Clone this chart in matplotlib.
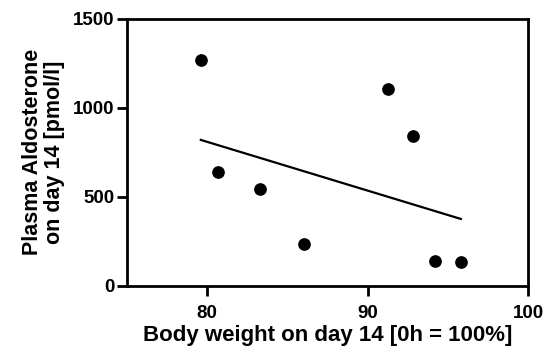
import numpy as np
import matplotlib.pyplot as plt

plt.rcParams['font.family'] = ['Liberation Sans', 'DejaVu Sans']
plt.rcParams['font.weight'] = 'bold'

# body weight (% of 0h) vs plasma aldosterone
weight = [79.6, 80.7, 83.3, 86.0, 91.25, 92.8, 94.2, 95.8]
aldo = [1270, 639, 543, 238, 1107, 841, 137, 133]

# regression line ends
fit_x = [79.6, 95.8]
fit_y = [820, 376]

fig = plt.figure(figsize=(5.52, 3.56), dpi=100)
ax = fig.add_axes([0.230, 0.197, 0.727, 0.750])

ax.scatter(weight, aldo, s=66, color='black', zorder=3)
ax.plot(fit_x, fit_y, color='black', lw=1.6)

ax.set_xlim(75, 100)
ax.set_ylim(0, 1500)
ax.set_xticks([80, 90, 100])
ax.set_yticks([0, 500, 1000, 1500])

for s in ax.spines.values():
    s.set_linewidth(2)
ax.tick_params(width=2, length=7, labelsize=13.5, direction='out')
ax.tick_params(axis='x', pad=7)
ax.tick_params(axis='y', pad=2)
for lab in ax.get_xticklabels() + ax.get_yticklabels():
    lab.set_fontweight('bold')

ax.set_xlabel('Body weight on day 14 [0h = 100%]', fontsize=16, fontweight='bold', labelpad=2)
ax.set_ylabel('Plasma Aldosterone\non day 14 [pmol/l]', fontsize=15.5, fontweight='bold',
              labelpad=6, multialignment='center', linespacing=1.05)

fig.savefig('out.png', dpi=100)
